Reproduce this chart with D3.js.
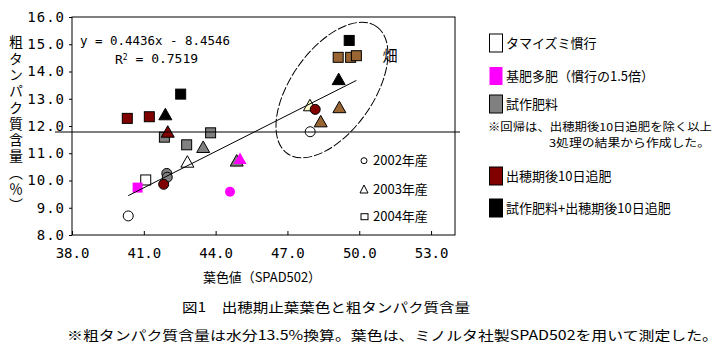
<!DOCTYPE html>
<html><head><meta charset="utf-8">
<script src="https://cdn.jsdelivr.net/npm/d3@7"></script>
<style>
html,body{margin:0;padding:0;background:#fff;}
svg{display:block;}
.cjk{font-family:"Noto Sans CJK JP","Noto Sans CJK SC",sans-serif;fill:#000;}
.num{font-family:"DejaVu Sans Mono","Liberation Mono",monospace;fill:#000;}
</style></head>
<body>
<script>
// ---- data ----
const xTicks = [38, 41, 44, 47, 50, 53];
const yTicks = [8, 9, 10, 11, 12, 13, 14, 15, 16];
// [SPAD, protein %, year]
const tamaizumi      = [[40.35, 8.70, 2002], [47.95, 11.79, 2002], [42.82, 10.69, 2003], [41.08, 10.02, 2004]];
const tamaizumiField = [[47.94, 12.76, 2003]];
const shisaku        = [[41.96, 10.26, 2002], [41.98, 10.12, 2002], [43.48, 11.23, 2003], [44.88, 10.73, 2003],
                        [41.86, 11.59, 2004], [43.79, 11.75, 2004], [42.79, 11.31, 2004]];
const shisakuField   = [[48.39, 12.17, 2003], [49.17, 12.69, 2003], [49.12, 14.52, 2004], [49.64, 14.52, 2004], [49.88, 14.58, 2004]];
const kihiTahi       = [[44.60, 9.59, 2002], [45.02, 10.81, 2003], [40.74, 9.74, 2004]];
const tsuihi         = [[41.83, 9.86, 2002], [48.16, 12.61, 2002], [42.00, 11.79, 2003], [40.31, 12.28, 2004], [41.23, 12.34, 2004]];
const shisakuTsuihi  = [[41.90, 12.43, 2003], [49.14, 13.72, 2003], [42.54, 13.17, 2004], [49.58, 15.14, 2004]];
const regSlope = 0.4436, regIntercept = -8.4546, regRange = [40.35, 49.88];
const refLineY = 11.78, refLineX = [37.29, 54.21];
const fieldCenter = [48.86, 13.32];
const legendItems = ["タマイズミ慣行", "基肥多肥（慣行の1.5倍）", "試作肥料", "出穂期後10日追肥", "試作肥料+出穂期後10日追肥"];
const yearLabels = ["2002年産", "2003年産", "2004年産"];

// ---- layout ----
const W = 723, H = 357;
const svg = d3.select("body").append("svg").attr("width", W).attr("height", H);
const x = d3.scaleLinear().domain([38, 54]).range([72, 455]);
const y = d3.scaleLinear().domain([8, 16]).range([235, 17]);

// plot border
svg.append("rect").attr("x", 72).attr("y", 17).attr("width", 383).attr("height", 218)
  .attr("fill", "none").attr("stroke", "#000").attr("stroke-width", 1);

// axes
const gx = svg.append("g").attr("transform", "translate(0,235)")
  .call(d3.axisBottom(x).tickValues(xTicks).tickSize(-4).tickSizeOuter(0).tickPadding(13).tickFormat(d3.format(".1f")));
gx.select(".domain").remove();
gx.selectAll("text").attr("class", "num").attr("font-size", 14).attr("fill", "#000").attr("font-family", null);
gx.selectAll("line").attr("stroke", "#000");

const gy = svg.append("g").attr("transform", "translate(72,0)")
  .call(d3.axisLeft(y).tickValues(yTicks).tickSize(3).tickSizeOuter(0).tickPadding(4).tickFormat(d3.format(".1f")));
gy.select(".domain").remove();
gy.selectAll("text").attr("class", "num").attr("font-size", 14).attr("fill", "#000").attr("font-family", null)
  .attr("letter-spacing", 1);
gy.selectAll("line").attr("stroke", "#000");

// markers
function marker(g, d, fill, stroke) {
  const cx = x(d[0]), cy = y(d[1]);
  if (d[2] === 2002) {
    g.append("circle").attr("cx", cx).attr("cy", cy).attr("r", 5)
      .attr("fill", fill).attr("stroke", stroke);
  } else if (d[2] === 2003) {
    g.append("path").attr("d", `M${cx},${cy - 6}L${cx + 6.5},${cy + 5.5}L${cx - 6.5},${cy + 5.5}Z`)
      .attr("fill", fill).attr("stroke", stroke);
  } else {
    g.append("rect").attr("x", cx - 5).attr("y", cy - 5).attr("width", 10).attr("height", 10)
      .attr("fill", fill).attr("stroke", stroke);
  }
}
const gm = svg.append("g");
const groups = [
  [tamaizumi, "#ffffff", "#000"],
  [tamaizumiField, "#ffffcc", "#000"],
  [shisaku, "#808080", "#000"],
  [shisakuField, "#996633", "#000"],
  [kihiTahi, "#ff00ff", "none"],
  [tsuihi, "#800000", "#000"],
  [shisakuTsuihi, "#000000", "#000"]
];
groups.forEach(([arr, f, s]) => arr.forEach(d => marker(gm, d, f, s)));

// reference horizontal line
svg.append("line").attr("x1", x(refLineX[0])).attr("x2", x(refLineX[1]))
  .attr("y1", y(refLineY)).attr("y2", y(refLineY)).attr("stroke", "#000").attr("stroke-width", 1.2);

// regression line
svg.append("line")
  .attr("x1", x(regRange[0])).attr("y1", y(regSlope * regRange[0] + regIntercept))
  .attr("x2", x(regRange[1])).attr("y2", y(regSlope * regRange[1] + regIntercept))
  .attr("stroke", "#000").attr("stroke-width", 1);

// field ellipse
const ecx = x(fieldCenter[0]), ecy = y(fieldCenter[1]);
svg.append("ellipse").attr("cx", ecx).attr("cy", ecy).attr("rx", 77.6).attr("ry", 41.3)
  .attr("transform", `rotate(-54.85,${ecx},${ecy})`)
  .attr("fill", "none").attr("stroke", "#000").attr("stroke-width", 1).attr("stroke-dasharray", "9,2");
svg.append("text").attr("class", "cjk").attr("x", 390).attr("y", 56).attr("dy", "0.35em")
  .attr("text-anchor", "middle").attr("font-size", 15).attr("fill", "#000").text("畑");

// equation
svg.append("text").attr("class", "num").attr("x", 80).attr("y", 40).attr("dy", "0.35em")
  .attr("font-size", 13).attr("textLength", 150).attr("lengthAdjust", "spacingAndGlyphs")
  .text("y = 0.4436x - 8.4546");
const r2 = svg.append("text").attr("class", "num").attr("x", 115).attr("y", 59).attr("dy", "0.35em").attr("font-size", 13);
r2.append("tspan").text("R");
r2.append("tspan").attr("font-size", 8).attr("dy", "-0.5em").text("2");
r2.append("tspan").attr("dy", "0.3em").text(" = 0.7519");

// year legend
const yearY = [160.7, 189, 216.7];
yearLabels.forEach((t, i) => {
  const cy = yearY[i], cx = 364;
  if (i === 0) svg.append("circle").attr("cx", cx).attr("cy", cy).attr("r", 3).attr("fill", "none").attr("stroke", "#000");
  if (i === 1) svg.append("path").attr("d", `M${cx},${cy - 4}L${cx + 4},${cy + 4}L${cx - 4},${cy + 4}Z`).attr("fill", "none").attr("stroke", "#000");
  if (i === 2) svg.append("rect").attr("x", cx - 3).attr("y", cy - 3).attr("width", 7).attr("height", 6).attr("fill", "none").attr("stroke", "#000");
  svg.append("text").attr("class", "cjk").attr("x", 373).attr("y", cy).attr("dy", "0.35em")
    .attr("font-size", 13).text(t);
});

// right legend
const legColors = ["#ffffff", "#ff00ff", "#808080", "#800000", "#000000"];
const legY = [43, 76, 104, 176, 208];
legendItems.forEach((t, i) => {
  svg.append("rect").attr("x", 489.5).attr("y", legY[i] - 9).attr("width", 13).attr("height", 18)
    .attr("fill", legColors[i]).attr("stroke", i === 1 ? "none" : "#000");
  svg.append("text").attr("class", "cjk").attr("x", 506).attr("y", legY[i]).attr("dy", "0.35em")
    .attr("font-size", 13).text(t);
});
svg.append("text").attr("class", "cjk").attr("x", 488).attr("y", 127).attr("dy", "0.35em")
  .attr("font-size", 11).attr("textLength", 224).attr("lengthAdjust", "spacingAndGlyphs")
  .text("※回帰は、出穂期後10日追肥を除く以上");
svg.append("text").attr("class", "cjk").attr("x", 549).attr("y", 143).attr("dy", "0.35em")
  .attr("font-size", 11).attr("textLength", 161).attr("lengthAdjust", "spacingAndGlyphs")
  .text("3処理の結果から作成した。");

// axis titles
svg.append("text").attr("class", "cjk").attr("x", 203).attr("y", 277).attr("dy", "0.35em")
  .attr("font-size", 13).attr("textLength", 118).attr("lengthAdjust", "spacingAndGlyphs")
  .text("葉色値（SPAD502）");
svg.append("text").attr("class", "cjk")
  .attr("x", 16).attr("y", 35)
  .attr("font-size", 14)
  .style("writing-mode", "vertical-rl")
  .style("text-orientation", "upright")
  .attr("letter-spacing", 2.3)
  .text("粗タンパク質含量（％）");

// caption
svg.append("text").attr("class", "cjk").attr("x", 182).attr("y", 307).attr("dy", "0.35em")
  .attr("font-size", 13).attr("textLength", 288).attr("lengthAdjust", "spacingAndGlyphs")
  .text("図1　出穂期止葉葉色と粗タンパク質含量");
svg.append("text").attr("class", "cjk").attr("x", 67).attr("y", 335).attr("dy", "0.35em")
  .attr("font-size", 13).attr("textLength", 651).attr("lengthAdjust", "spacingAndGlyphs")
  .text("※粗タンパク質含量は水分13.5%換算。葉色は、ミノルタ社製SPAD502を用いて測定した。");
</script>
</body></html>
